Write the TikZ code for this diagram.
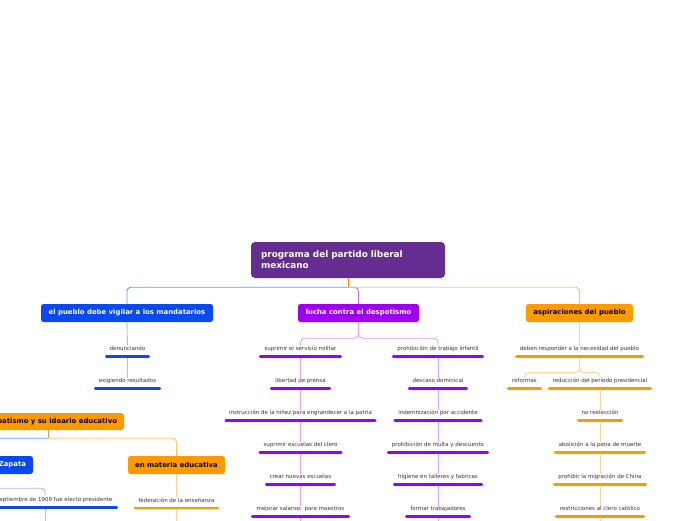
\documentclass[tikz,border=0pt]{standalone}
\usepackage{fontspec}
\setmainfont{DejaVu Sans}
\definecolor{croot}{RGB}{102,45,145}
\definecolor{cblue}{RGB}{8,73,240}
\definecolor{cpurp}{RGB}{160,0,240}
\definecolor{corange}{RGB}{255,153,0}
\definecolor{lblue}{RGB}{165,190,255}
\definecolor{lpurp}{RGB}{220,160,255}
\definecolor{lorange}{RGB}{255,210,150}
\definecolor{mblue}{RGB}{105,150,255}
\definecolor{mpurp}{RGB}{195,110,255}
\definecolor{morange}{RGB}{255,192,105}
\definecolor{rootor}{RGB}{240,130,0}
\definecolor{ctan}{RGB}{200,160,110}
\definecolor{txt}{RGB}{51,51,51}
\pgfdeclarelayer{bg}
\pgfsetlayers{bg,main}
\newcommand\leafnode[6]{%
  \node[leaf] (#1) at (#2,#3) {#6};
  \coordinate (#1b) at (#2,#3+7);
  \draw[bar,#5] (#2-#4/2+1.3,#3+7) -- (#2+#4/2-1.3,#3+7);
}
\begin{document}
\begin{tikzpicture}[x=1pt,y=-1pt,
  conn/.style={line width=0.9pt, rounded corners=4pt},
  bar/.style={line width=2.6pt, line cap=round},
  leaf/.style={font=\fontsize{5.5}{6.5}\selectfont, text=txt, inner xsep=0pt, inner ysep=1.2pt, text height=4pt, text depth=1.2pt},
  box/.style={rounded corners=2.5pt, minimum height=18pt, inner sep=0pt, font=\bfseries\fontsize{6.9}{8}\selectfont},
  rootbox/.style={rounded corners=4pt, fill=croot, text=white, minimum height=36pt, inner xsep=10pt, inner ysep=0pt, text width=174pt, align=left, font=\bfseries\fontsize{8.9}{11}\selectfont},
]
\useasboundingbox (0,0) rectangle (696,520);
\clip (0,0) rectangle (696,520);

% main nodes
\node[rootbox] (root) at (348,260) {programa del partido liberal\\mexicano};
\node[box,fill=cblue,text=white,minimum width=172pt] (vig) at (127,313) {el pueblo debe vigilar a los mandatarios};
\node[box,fill=cpurp,text=white,minimum width=121pt] (lucha) at (358.5,313) {lucha contra el despotismo};
\node[box,fill=corange,text=black,minimum width=107pt] (asp) at (579.5,313) {aspiraciones del pueblo};
\node[box,fill=corange,text=black,minimum width=152pt,minimum height=17pt] (zap) at (48,421.5) {\makebox[138pt][r]{zapatismo y su ideario educativo}};
\node[box,fill=cblue,text=white,minimum width=93pt] (zapata) at (-13.5,465) {\makebox[79pt][r]{Zapata}};
\node[box,fill=corange,text=black,minimum width=97pt] (mat) at (176.5,465) {en materia educativa};

% leaves: blue
\leafnode{den}{127.5}{349.5}{45}{cblue}{denunciando}
\leafnode{exi}{127.5}{381.5}{67}{cblue}{exigiendo resultados}
% leaves: purple left
\leafnode{sm}{300.5}{349.5}{83}{cpurp}{suprimir el servicio militar}
\leafnode{lp}{300.5}{381.5}{61}{cpurp}{libertad de prensa}
\leafnode{in}{300.5}{413.5}{152}{cpurp}{instrucción de la niñez para engrandecer a la patria}
\leafnode{se}{300.5}{445.5}{84}{cpurp}{suprimir escuelas del clero}
\leafnode{cn}{300.5}{477.5}{71}{cpurp}{crear nuevas escuelas}
\leafnode{ms}{300.5}{509.5}{99}{cpurp}{mejorar salarios\ \ para maestros}
% leaves: purple right
\leafnode{ti}{438}{349.5}{92}{cpurp}{prohibición de trabajo infantil}
\leafnode{dd}{438}{381.5}{60}{cpurp}{descaso dominical}
\leafnode{ia}{438}{413.5}{89}{cpurp}{indemnización por accidente}
\leafnode{pm}{438}{445.5}{102}{cpurp}{prohibición de multa y descuento}
\leafnode{hg}{438}{477.5}{90}{cpurp}{higiene en talleres y fabricas}
\leafnode{ft}{438}{509.5}{66}{cpurp}{formar trabajadores}
% leaves: orange
\leafnode{dr}{579.5}{349.5}{129}{corange}{deben responder a la necesidad del pueblo}
\leafnode{rf}{524.5}{381.5}{35}{corange}{reformas}
\leafnode{rp}{600}{381.5}{104}{corange}{reducción del periodo presidencial}
\leafnode{nr}{600}{413.5}{46}{corange}{no reelección}
\leafnode{ab}{600}{445.5}{92}{corange}{abolición a la pena de muerte}
\leafnode{mc}{600}{477.5}{94}{corange}{prohibir la migración de China}
\leafnode{rc}{600}{509.5}{90}{corange}{restricciones al clero católico}
% leaves: bottom left
\leafnode{fed}{176.5}{501}{86}{corange}{federación de la enseñanza}
\node[leaf,anchor=east] (sept) at (112.5,500.5) {el 12 de septiembre de 1909 fue electo presidente};
\coordinate (septtop) at (45,496);
\coordinate (septb) at (45,507.5);
\draw[bar,cblue] (-30,507.5) -- (116.7,507.5);

\coordinate (endms) at (300.5,530);
\coordinate (endft) at (438,530);
\coordinate (endrc) at (600,530);
\coordinate (endfed) at (176.5,530);
\coordinate (endsept) at (45,530);

\begin{pgfonlayer}{bg}
  \draw[line width=0.9pt,rootor] (root.south) -- ++(0,9) coordinate (rj);
  \draw[conn,mblue] (rj) -| (vig.north);
  \draw[conn,mpurp] (rj) -| (lucha.north);
  \draw[conn,morange] (rj) -| (asp.north);
  % blue column
  \draw[conn,lblue] (vig.south) -- (den.north);
  \draw[conn,lblue] (denb) -- (exi.north);
  % purple columns
  \draw[conn,lpurp] (lucha.south) -- ++(0,16) -| (sm.north);
  \draw[conn,lpurp] (lucha.south) -- ++(0,16) -| (ti.north);
  \draw[conn,lpurp] (smb) -- (lp.north);
  \draw[conn,lpurp] (lpb) -- (in.north);
  \draw[conn,lpurp] (inb) -- (se.north);
  \draw[conn,lpurp] (seb) -- (cn.north);
  \draw[conn,lpurp] (cnb) -- (ms.north);
  \draw[conn,lpurp] (msb) -- (endms);
  \draw[conn,lpurp] (tib) -- (dd.north);
  \draw[conn,lpurp] (ddb) -- (ia.north);
  \draw[conn,lpurp] (iab) -- (pm.north);
  \draw[conn,lpurp] (pmb) -- (hg.north);
  \draw[conn,lpurp] (hgb) -- (ft.north);
  \draw[conn,lpurp] (ftb) -- (endft);
  % orange column
  \draw[conn,lorange] (asp.south) -- (dr.north);
  \draw[conn,lorange] (drb) -- ++(0,16) -| (rf.north);
  \draw[conn,lorange] (drb) -- ++(0,16) -| (rp.north);
  \draw[conn,lorange] (rpb) -- (nr.north);
  \draw[conn,lorange] (nrb) -- (ab.north);
  \draw[conn,lorange] (abb) -- (mc.north);
  \draw[conn,lorange] (mcb) -- (rc.north);
  \draw[conn,lorange] (rcb) -- (endrc);
  % bottom left
  \draw[line width=0.9pt,ctan] (zap.south) -- ++(0,8) coordinate (zj);
  \draw[conn,mblue] (zj) -| (zapata.north);
  \draw[conn,morange] (zj) -| (mat.north);
  \draw[conn,lblue] (zapata.south) -- ++(0,14) -| (septtop);
  \draw[conn,lblue] (septb) -- (endsept);
  \draw[conn,lorange] (mat.south) -- (fed.north);
  \draw[conn,lorange] (fedb) -- (endfed);
\end{pgfonlayer}
\end{tikzpicture}
\end{document}
